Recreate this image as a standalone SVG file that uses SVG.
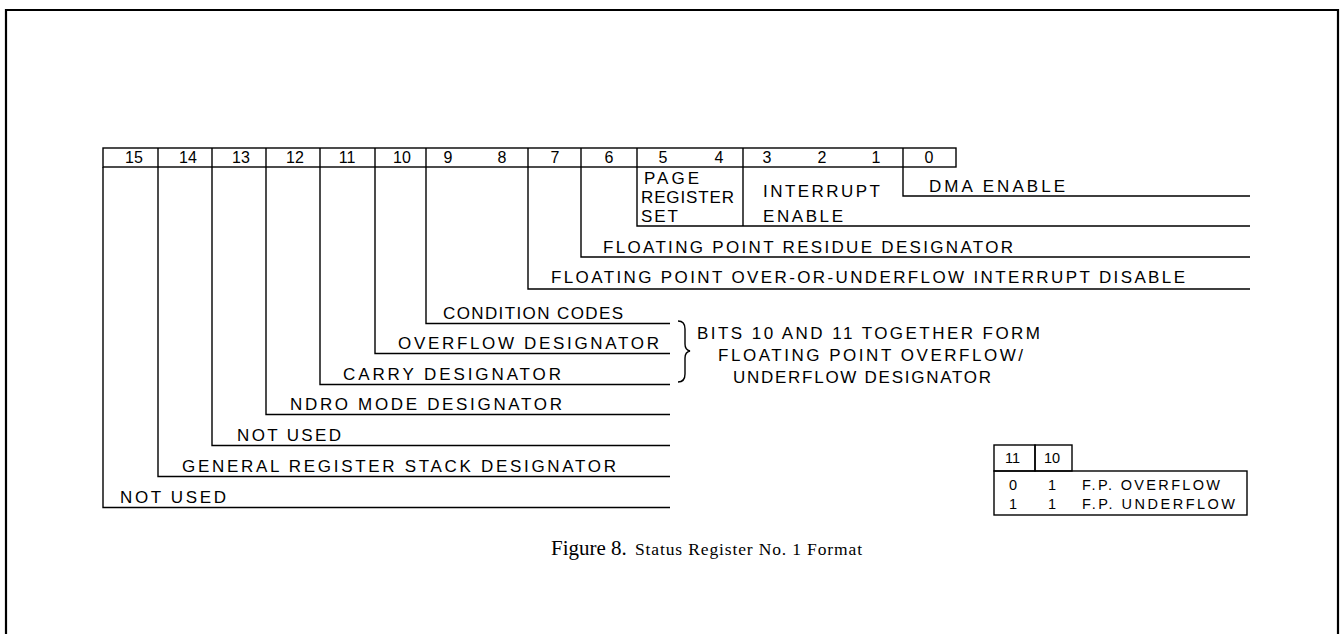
<svg xmlns="http://www.w3.org/2000/svg" width="1343" height="634" viewBox="0 0 1343 634">
<style>
.ln{fill:none;stroke:#000;stroke-width:1.4}
.bd{fill:none;stroke:#000;stroke-width:2.2}
.t{font-family:"Liberation Sans",Arial,sans-serif;font-size:17px;fill:#000}
.d{font-family:"Liberation Sans",Arial,sans-serif;font-size:16px;fill:#000;text-anchor:middle}
.s{font-family:"Liberation Sans",Arial,sans-serif;font-size:14.5px;fill:#000}
.c{font-family:"Liberation Serif","Times New Roman",serif;fill:#000}
</style>
<rect width="1343" height="634" fill="#fff"/>
<path class="bd" d="M6,634 V10 H1338 V634"/>

<g id="register">
<rect class="ln" x="103" y="148" width="853" height="19"/>
<path class="ln" d="M158,148V167M212,148V167M266,148V167M320,148V167M375,148V167M426,148V167M528,148V167M581,148V167M637,148V167M743,148V167M903,148V167"/>
<text class="d" x="134" y="163">15</text>
<text class="d" x="188" y="163">14</text>
<text class="d" x="241" y="163">13</text>
<text class="d" x="295" y="163">12</text>
<text class="d" x="347" y="163">11</text>
<text class="d" x="402" y="163">10</text>
<text class="d" x="448" y="163">9</text>
<text class="d" x="502" y="163">8</text>
<text class="d" x="555" y="163">7</text>
<text class="d" x="609" y="163">6</text>
<text class="d" x="663" y="163">5</text>
<text class="d" x="719" y="163">4</text>
<text class="d" x="767" y="163">3</text>
<text class="d" x="822" y="163">2</text>
<text class="d" x="876" y="163">1</text>
<text class="d" x="929" y="163">0</text>
</g>

<g id="connectors">
<path class="ln" d="M903,167 V196 H1250"/>
<path class="ln" d="M637,167 V226 H1250"/>
<path class="ln" d="M743,167 V226"/>
<path class="ln" d="M581,167 V257 H1250"/>
<path class="ln" d="M528,167 V289 H1250"/>
<path class="ln" d="M426,167 V323.5 H670"/>
<path class="ln" d="M375,167 V353.5 H670"/>
<path class="ln" d="M320,167 V384.5 H670"/>
<path class="ln" d="M266,167 V414.5 H670"/>
<path class="ln" d="M212,167 V445.5 H670"/>
<path class="ln" d="M158,167 V476.5 H670"/>
<path class="ln" d="M103,167 V507.5 H670"/>
<path class="ln" d="M678,321 Q685,321 685,329 V344 Q685,350 690,351 Q685,352 685,358 V374 Q685,382 678,382"/>
</g>

<g id="bit0"><text class="t" x="929" y="192" textLength="136" lengthAdjust="spacing">DMA ENABLE</text></g>
<g id="bits5-4">
<text class="t" x="644" y="184" textLength="55" lengthAdjust="spacing">PAGE</text>
<text class="t" x="641" y="203" textLength="93" lengthAdjust="spacing">REGISTER</text>
<text class="t" x="641" y="222" textLength="37" lengthAdjust="spacing">SET</text>
</g>
<g id="bits3-1">
<text class="t" x="763" y="197" textLength="117" lengthAdjust="spacing">INTERRUPT</text>
<text class="t" x="763" y="222" textLength="80" lengthAdjust="spacing">ENABLE</text>
</g>
<g id="bit6"><text class="t" x="603" y="253" textLength="410" lengthAdjust="spacing">FLOATING POINT RESIDUE DESIGNATOR</text></g>
<g id="bit7"><text class="t" x="551" y="283" textLength="634" lengthAdjust="spacing">FLOATING POINT OVER-OR-UNDERFLOW INTERRUPT DISABLE</text></g>
<g id="bits9-8"><text class="t" x="443" y="319" textLength="180" lengthAdjust="spacing">CONDITION CODES</text></g>
<g id="bit10"><text class="t" x="398" y="349" textLength="261" lengthAdjust="spacing">OVERFLOW DESIGNATOR</text></g>
<g id="bit11"><text class="t" x="343" y="380" textLength="218" lengthAdjust="spacing">CARRY DESIGNATOR</text></g>
<g id="bit12"><text class="t" x="290" y="410" textLength="272" lengthAdjust="spacing">NDRO MODE DESIGNATOR</text></g>
<g id="bit13"><text class="t" x="237" y="441" textLength="104" lengthAdjust="spacing">NOT USED</text></g>
<g id="bit14"><text class="t" x="182" y="472" textLength="434" lengthAdjust="spacing">GENERAL REGISTER STACK DESIGNATOR</text></g>
<g id="bit15"><text class="t" x="120" y="503" textLength="106" lengthAdjust="spacing">NOT USED</text></g>

<g id="note">
<text class="t" x="697" y="339" textLength="343" lengthAdjust="spacing">BITS 10 AND 11 TOGETHER FORM</text>
<text class="t" x="718" y="361" textLength="305" lengthAdjust="spacing">FLOATING POINT OVERFLOW/</text>
<text class="t" x="733" y="383" textLength="258" lengthAdjust="spacing">UNDERFLOW DESIGNATOR</text>
</g>

<g id="table">
<rect class="ln" x="994" y="445" width="41" height="26"/>
<rect class="ln" x="1035" y="445" width="37" height="26"/>
<rect class="ln" x="994" y="471" width="253" height="44"/>
<text class="s" x="1005" y="463">11</text>
<text class="s" x="1044" y="463">10</text>
<text class="s" x="1009" y="490">0</text>
<text class="s" x="1048" y="490">1</text>
<text class="s" x="1082" y="490" textLength="138" lengthAdjust="spacing">F.P. OVERFLOW</text>
<text class="s" x="1009" y="509">1</text>
<text class="s" x="1048" y="509">1</text>
<text class="s" x="1082" y="509" textLength="153" lengthAdjust="spacing">F.P. UNDERFLOW</text>
</g>

<g id="caption">
<text class="c" x="551" y="555" font-size="21">Figure 8.</text>
<text class="c" x="635" y="555" font-size="17.5" textLength="227" lengthAdjust="spacing">Status Register No. 1 Format</text>
</g>
</svg>
